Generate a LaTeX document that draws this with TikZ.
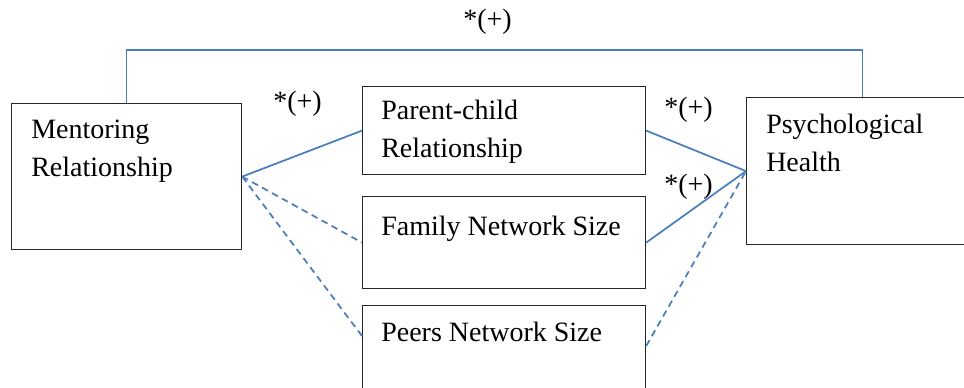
\documentclass[tikz,border=0pt]{standalone}
\usepackage{fontspec}
\setmainfont{Liberation Serif}
\definecolor{linkblue}{HTML}{4A7EBB}
\tikzset{
  box/.style={draw=black!85, line width=0.9pt, rectangle, inner sep=0pt, anchor=north west},
  txt/.style={inner sep=0pt, anchor=base west, align=left, font=\fontsize{21}{28}\selectfont},
  lbl/.style={inner sep=0pt, anchor=base west, font=\fontsize{21}{28}\selectfont},
  conn/.style={draw=linkblue, line width=1.3pt},
  dconn/.style={conn, dash pattern=on 5pt off 3.5pt}
}
\begin{document}
\begin{tikzpicture}[x=0.75pt, y=-0.75pt]
\useasboundingbox (0,0) rectangle (964,387);
% boxes
\node[box, minimum width=172.5pt, minimum height=109.5pt] (ment) at (11,103) {};
\node[box, minimum width=212.25pt, minimum height=66pt] (parent) at (362,86) {};
\node[box, minimum width=212.25pt, minimum height=69pt] (family) at (362,196) {};
\node[box, minimum width=212.25pt, minimum height=75pt] (peers) at (362,305) {};
\node[box, minimum width=174pt, minimum height=110.25pt] (psych) at (746,97) {};
% texts (base = last line)
\node[txt] (mentT) at (31,176) {Mentoring\\Relationship};
\node[txt] (parentT) at (381,157) {Parent-child\\Relationship};
\node[txt] (familyT) at (381,235) {Family Network Size};
\node[txt] (peersT) at (381,341) {Peers Network Size};
\node[txt] (psychT) at (766,171) {Psychological\\Health};
% connectors
\draw[conn] (ment.north) -- ++(0,-53) -| (psych.north);
\draw[conn] (ment.east) -- (parent.west);
\draw[dconn] (ment.east) -- (family.west);
\draw[dconn] (ment.east) -- ([yshift=-23.25pt]peers.north west);
\draw[conn] (parent.east) -- (psych.west);
\draw[conn] (family.east) -- (psych.west);
\draw[dconn] ([yshift=-30.75pt]peers.north east) -- (psych.west);
% labels
\node[lbl] (l1) at (463,28) {*(+)};
\node[lbl] (l2) at (273,110) {*(+)};
\node[lbl] (l3) at (664,116) {*(+)};
\node[lbl] (l4) at (664,193) {*(+)};
\end{tikzpicture}
\end{document}
